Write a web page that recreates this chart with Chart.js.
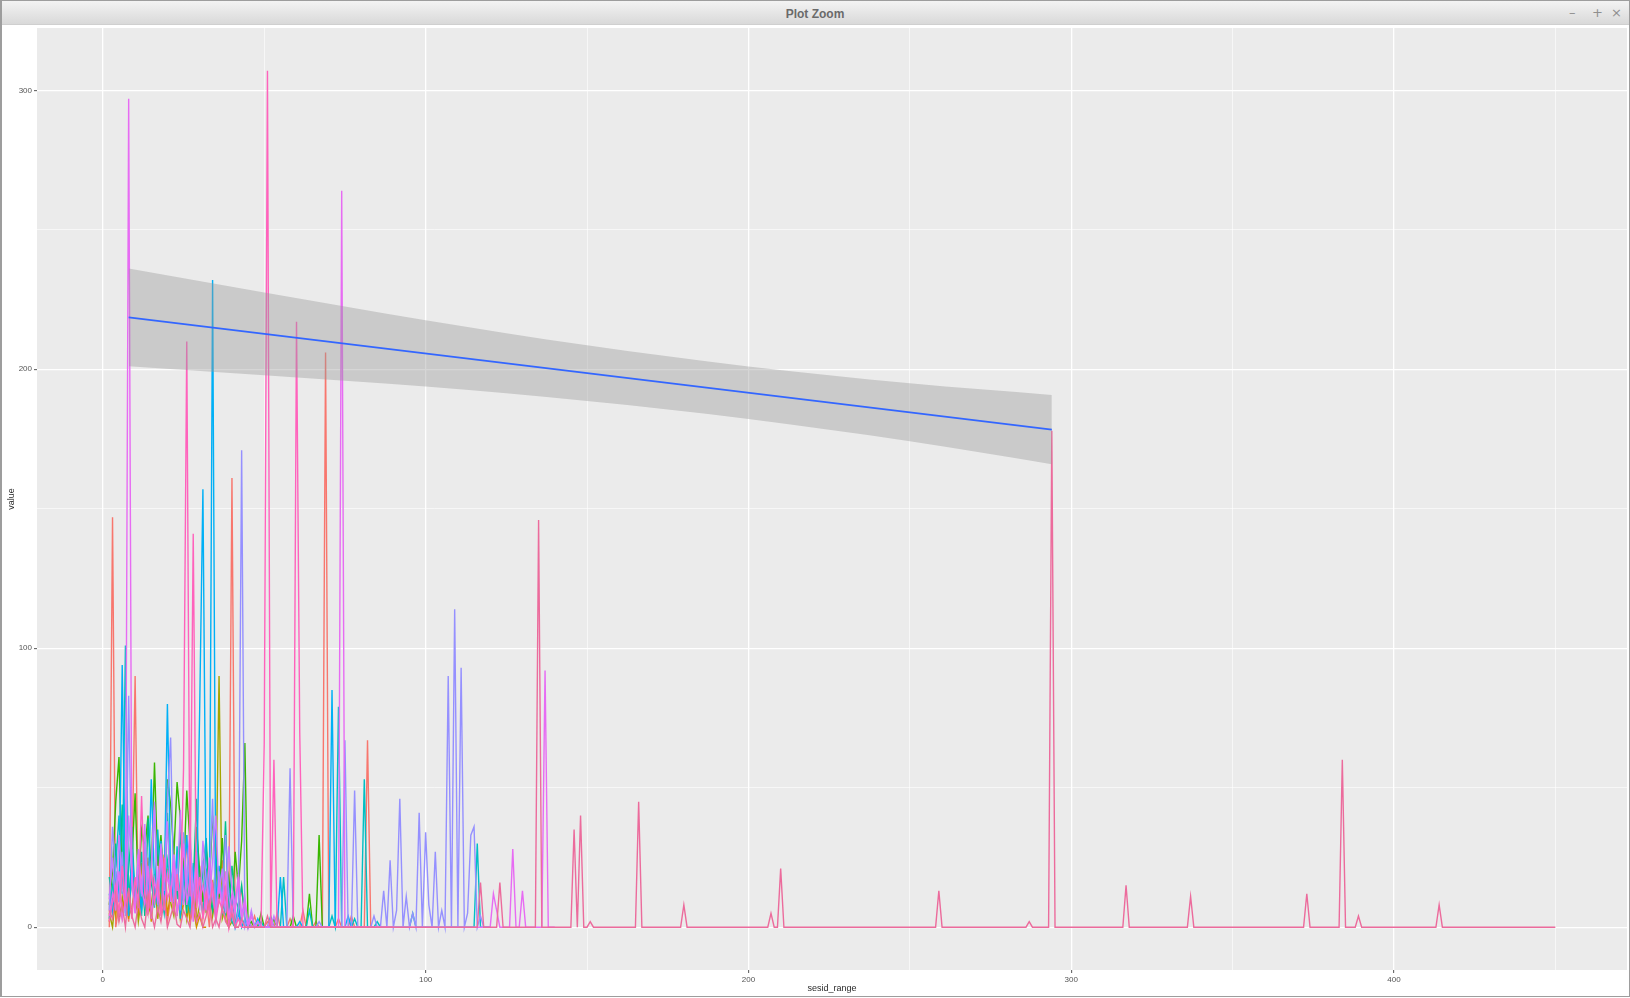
<!DOCTYPE html>
<html>
<head>
<meta charset="utf-8">
<title>Plot Zoom</title>
<script src="https://cdn.jsdelivr.net/npm/chart.js@4.4.1/dist/chart.umd.min.js"></script>
<style>
    html, body { margin: 0; padding: 0; background: #ffffff; }
    #janela { position: relative; width: 1630px; height: 998px; overflow: hidden; background: #ffffff; }
    #grafico { position: absolute; left: 0; top: 0; }
    #barra { position: absolute; left: 0; top: 0; width: 1628px; height: 23px; border: 1px solid #a9a9a9; border-bottom: 1px solid #cfcfcf;
             background: linear-gradient(#f3f3f3, #d9d9d9); z-index: 2; }
    #barra .titulo { position: absolute; left: 0; right: 0; top: 6px; text-align: center;
                     font: bold 12px "Liberation Sans", Arial, sans-serif; color: #6a6a6a; }
    #barra .botao { position: absolute; top: 4px; font: 13px "DejaVu Sans", sans-serif; color: #8f8f8f; }
    #borda { position: absolute; left: 0; top: 0; width: 1627px; height: 995px; border: 1px solid #9d9d9d; border-left-width: 2px; z-index: 3; pointer-events: none; }
</style>
</head>
<body>
<div id="janela">
    <div id="barra">
        <div class="titulo">Plot Zoom</div>
        <span class="botao" style="left:1568px">&ndash;</span>
        <span class="botao" style="left:1591px">+</span>
        <span class="botao" style="left:1610px">&times;</span>
    </div>
    <canvas id="grafico" width="1630" height="998"></canvas>
    <div id="borda"></div>
</div>
<script>
// axis ticks (major get a label, minor only a thin grid line)
var xMajor = [0, 100, 200, 300, 400];
var xMinor = [50, 150, 250, 350, 450];
var yMajor = [0, 100, 200, 300];
var yMinor = [50, 150, 250];

// series values, one value per sesid_range step starting at x0
var redX0 = 2;
var redVals = [0,147,0,8,3,14,2,20,90,4, 16,6,25,3,12,30,5,18,2,10, 27,4,15,8,33,2,14,6,22,3,
               11,0,17,5,9,24,3,0,161,0, 6,14,2,0,0,4,0,0,0,2, 0,0,5,0,0,0,3,0,0,0,
               6,0,0,0,2,0,0,206,0,0, 0,3,0,0,0,4,0,0,0,0, 67,0,0];

var orangeX0 = 2;
var orangeVals = [2,10,4,18,6,12,3,22,9,5, 23,7,14,2,19,8,11,26,4,13, 6,17,3,9,12,2,7,0,4,0, 0];

var oliveX0 = 2;
var oliveVals = [5,0,12,3,9,20,4,7,15,2, 11,27,5,8,18,3,13,6,21,9, 4,16,7,25,3,10,19,2,8,14,
                 5,22,4,11,90,3,7,0,2,0, 0];

var greenX0 = 2;
var greenVals = [8,20,45,61,15,30,10,24,48,12, 35,28,40,18,59,22,33,14,53,44, 26,52,39,18,49,30,12,36,20,9,
                 28,15,40,24,10,32,8,18,6,27, 14,31,66,0,2,0,0,5,0,0, 0,3,0,0,0,0,0,4,0,0,
                 0,0,12,0,0,33,0];

var mintX0 = 2;
var mintVals = [18,7,30,12,44,5,21,36,9,15, 27,4,39,16,8,31,22,6,41,13, 24,10,34,19,5,28,14,46,8,20,
                32,11,6,25,17,9,38,4,22,10, 7,15,3,0,5,0,0];

var tealX0 = 2;
var tealVals = [3,15,22,40,12,101,6,18,9,26, 4,31,11,20,7,35,13,5,24,16, 8,29,3,19,12,6,23,9,15,4,
                21,7,12,3,18,9,5,14,2,0, 8,0,3,0,0,0,0,2,0,0, 4,0,0,0,18,0,0,0,0,0,
                0,0,6,0,0,0,0,0,0,4, 0,79,0,0,0,0,3,0,0,53, 0,0,0,2,0,0,0,0,0,0,
                0,0,0,0,5,0,0,0,0,0, 0,0,0,0,0,0,0,0,0,0, 0,0,0,0,30,0,0,0,0];

var cyanX0 = 2;
var cyanVals = [12,5,20,9,94,14,4,28,11,17, 6,24,9,53,15,8,31,12,80,19, 10,26,5,17,33,7,20,11,78,157,
                14,8,232,8,22,6,13,3,10,0, 5,0,2,0,0,0,3,0,0,0, 0,0,0,18,0,0,0,0,0,2,
                0,0,0,0,0,0,0,0,0,85, 0,0,0,0,4,0,0,0,0];

var blueX0 = 2;
var blueVals = [6,36,18,9,27,4,83,15,7,22, 11,30,5,19,42,8,25,13,46,68, 9,21,6,34,14,27,5,18,10,24,
                7,15,46,3,20,9,33,12,4,0, 6,171,0,3,0,0,2,0,0,0, 0,0,0,0,0,0,57,0,0,0,
                0,0,0,0,0,2,0,0,0,0, 0,0,0,67,0,0,49,0,0,0, 0,0,4,0,0,13,0,24,0,6,
                46,0,11,0,5,0,41,0,34,8, 0,27,0,6,0,90,0,114,0,93, 0,5,33,36,0,4,0,0,0];

var violetX0 = 2;
var violetVals = [10,25,6,33,14,8,40,19,5,28, 12,37,7,22,45,10,30,16,38,9, 26,13,42,8,20,35,11,27,6,31,
                  17,9,24,40,12,21,5,29,14,8, 19,4,11,0,6,0,2,0,0,0, 0,4,0,0,0,0,0,0,0];

var magentaX0 = 2;
var magentaVals = [4,12,7,20,3,9,297,16,5,26, 14,8,22,3,17,10,28,6,19,11, 24,5,13,30,8,18,2,21,9,15,
                   6,25,11,4,16,7,20,3,12,5, 18,2,9,0,4,0,0,0,0,0, 3,0,0,0,0,0,0,0,0,0,
                   0,0,0,0,0,0,0,0,0,0, 0,0,264,0,0,0,0,0,0,0, 0,0,0,0,0,0,0,0,0,0,
                   0,0,0,0,0,0,0,0,0,0, 0,0,0,0,0,0,0,0,0,0, 0,0,0,0,0,0,0,0,0,12,
                   6,0,0,0,0,28,0,0,13,0, 0,0,0,0,0,92,0,0,0];

var pinkX0 = 2;
var pinkVals = [2,9,15,4,22,8,13,3,18,7, 47,12,5,21,9,16,4,25,10,14, 6,19,8,57,210,11,141,7,18,3,
                13,5,16,2,10,6,14,0,8,0, 3,0,0,0,0,0,0,0,66,307, 0,60,0,0,0,0,0,0,217,70,
                0,0,0,0,0,0,0,0,0,0, 0,0,0,0,0,0,0,0,0,0, 0,0,0,0,0,0,0,0,0];

// the long session: dense start, then [x, value] pairs (zero runs between them)
var longX0 = 2;
var longVals = [6,3,11,2,8,0,14,4,0,9, 3,0,12,5,0,7,2,10,0,4, 8,1,0,6,3,0,11,2,5,0,
                4,9,0,3,0,7,2,0,5,0, 0,3,0];
var longTail = [[50,0],[51,4],[52,0],[116,0],[117,16],[118,0],[122,0],[123,16],[124,0],
                [134,0],[135,146],[136,0],[145,0],[146,35],[147,0],[148,40],[149,0],[150,0],[151,2],[152,0],
                [165,0],[166,45],[167,0],[179,0],[180,8],[181,0],[206,0],[207,5],[208,0],[209,0],[210,21],[211,0],
                [258,0],[259,13],[260,0],[286,0],[287,2],[288,0],[293,0],[294,178],[295,0],
                [316,0],[317,15],[318,0],[336,0],[337,11],[338,0],[372,0],[373,12],[374,0],
                [383,0],[384,60],[385,0],[388,0],[389,4],[390,0],[413,0],[414,8],[415,0],[450,0]];

// lm fit and its confidence band
var fitX = [8, 294];
var fitY = [218.6, 178.4];
var bandX = [8, 50, 100, 150, 200, 250, 294];
var bandUpper = [236.1, 227.5, 217.6, 208.6, 201.0, 195.0, 190.8];
var bandLower = [201.1, 197.9, 193.8, 188.6, 182.2, 174.2, 166.0];

function pontos(x0, vals){
    var arr = [];
    for (var i = 0; i < vals.length; i++)
        arr.push({x: x0 + i, y: vals[i]});
    return arr;
}

function pares(xs, ys){
    var arr = [];
    for (var i = 0; i < xs.length; i++)
        arr.push({x: xs[i], y: ys[i]});
    return arr;
}

var longData = pontos(longX0, longVals);
for (var k in longTail)
    longData.push({x: longTail[k][0], y: longTail[k][1]});

// ggplot order: the last group ends up on top
var grupos = [
    {cor: "#F8766D", dados: pontos(redX0, redVals)},
    {cor: "#D89000", dados: pontos(orangeX0, orangeVals)},
    {cor: "#A3A500", dados: pontos(oliveX0, oliveVals)},
    {cor: "#39B600", dados: pontos(greenX0, greenVals)},
    {cor: "#00C08B", dados: pontos(mintX0, mintVals)},
    {cor: "#00BFC4", dados: pontos(tealX0, tealVals)},
    {cor: "#00B0F6", dados: pontos(cyanX0, cyanVals)},
    {cor: "#9590FF", dados: pontos(blueX0, blueVals)},
    {cor: "#C77CFF", dados: pontos(violetX0, violetVals)},
    {cor: "#E76BF3", dados: pontos(magentaX0, magentaVals)},
    {cor: "#FF62BC", dados: pontos(pinkX0, pinkVals)},
    {cor: "#EC6B9C", dados: longData}
];

var datasets = [];
datasets.push({ data: pares(fitX, fitY), borderColor: "#3366FF", borderWidth: 1.8, pointRadius: 0, fill: false, order: 0 });
datasets.push({ data: pares(bandX, bandUpper), borderWidth: 0, pointRadius: 0, fill: "+1",
                backgroundColor: "rgba(153,153,153,0.4)", cubicInterpolationMode: "monotone", order: 1 });
datasets.push({ data: pares(bandX, bandLower), borderWidth: 0, pointRadius: 0, fill: false,
                cubicInterpolationMode: "monotone", order: 1 });
for (var g = 0; g < grupos.length; g++){
    datasets.push({
        data: grupos[g].dados,
        borderColor: grupos[g].cor,
        borderWidth: 1.4,
        pointRadius: 0,
        fill: false,
        tension: 0,
        order: 30 - g
    });
}

// grey panel like theme_gray
var painel = {
    id: "painel",
    beforeDraw: function(chart){
        var a = chart.chartArea, ctx = chart.ctx;
        ctx.save();
        ctx.fillStyle = "#EBEBEB";
        ctx.fillRect(a.left, a.top, a.right - a.left, a.bottom - a.top);
        ctx.restore();
    }
};

function eixo(major, minor, titulo){
    var todos = major.concat(minor).sort(function(a, b){ return a - b; });
    return {
        type: "linear",
        afterBuildTicks: function(s){ s.ticks = todos.map(function(v){ return {value: v}; }); },
        border: { display: false },
        grid: {
            color: "#FFFFFF",
            lineWidth: function(c){ return major.indexOf(c.tick.value) >= 0 ? 1.3 : 0.6; },
            tickColor: function(c){ return major.indexOf(c.tick.value) >= 0 ? "#555555" : "rgba(0,0,0,0)"; },
            tickLength: 3,
            tickWidth: 1
        },
        ticks: {
            autoSkip: false,
            maxRotation: 0,
            padding: 2,
            color: "#555555",
            font: { family: "'Liberation Sans', Arial, sans-serif", size: 8 },
            callback: function(v){ return major.indexOf(v) >= 0 ? String(v) : ""; }
        },
        title: {
            display: true,
            text: titulo,
            color: "#2a2a2a",
            font: { family: "'Liberation Sans', Arial, sans-serif", size: 9 }
        }
    };
}

var escalaX = eixo(xMajor, xMinor, "sesid_range");
escalaX.min = -20.4;
escalaX.max = 472.2;
escalaX.title.padding = { top: 0, bottom: 4 };
escalaX.afterFit = function(s){ s.height = 28; };

var escalaY = eixo(yMajor, yMinor, "value");
escalaY.min = -15.35;
escalaY.max = 322.35;
escalaY.title.padding = { top: 6, bottom: 0 };
escalaY.afterFit = function(s){ s.width = 37; };

let grafico = new Chart(document.getElementById("grafico").getContext("2d"), {
    type: "line",
    data: { datasets: datasets },
    options: {
        responsive: false,
        animation: false,
        devicePixelRatio: 1,
        layout: { padding: { top: 28, right: 3, left: 0, bottom: 0 } },
        plugins: { legend: { display: false }, tooltip: { enabled: false } },
        scales: { x: escalaX, y: escalaY }
    },
    plugins: [painel]
});
</script>
</body>
</html>
